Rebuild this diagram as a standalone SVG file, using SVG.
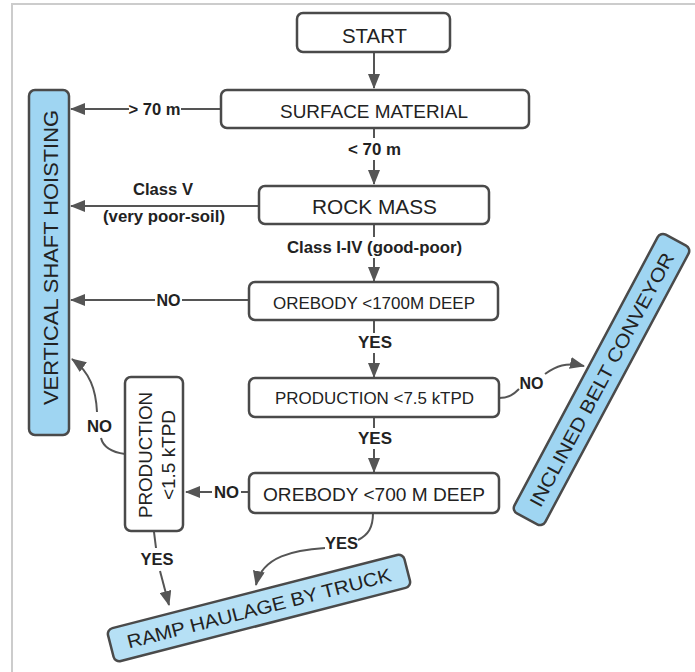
<svg xmlns="http://www.w3.org/2000/svg" width="695" height="672" viewBox="0 0 695 672">
<style>
.box{fill:#fff;stroke:#4a4a4a;stroke-width:2.5}
.blue{fill:#9fd5f2;stroke:#4a4a4a;stroke-width:2.5}
.blue2{fill:#b6e0f5;stroke:#4a4a4a;stroke-width:2.5}
.t{font-family:"Liberation Sans",Arial,sans-serif;fill:#222;text-anchor:middle}
.lbl{font-family:"Liberation Sans",Arial,sans-serif;font-weight:bold;font-size:16px;fill:#222;text-anchor:middle}
.c{fill:none;stroke:#555;stroke-width:2}
</style>
<defs>
<marker id="ah" viewBox="0 0 15 12" refX="14" refY="6" markerWidth="15" markerHeight="12" markerUnits="userSpaceOnUse" orient="auto">
<path d="M0,0 L15,6 L0,12 z" fill="#555"/>
</marker>
</defs>
<rect x="0" y="0" width="695" height="672" fill="#fff"/>
<rect x="12" y="4" width="720" height="720" fill="none" stroke="#cccccc" stroke-width="2"/>

<g id="connectors">
<path class="c" d="M374,52 L374,88" marker-end="url(#ah)"/>
<path class="c" d="M374,128 L374,138"/>
<path class="c" d="M374,160 L374,184" marker-end="url(#ah)"/>
<path class="c" d="M221,109 L181,109"/>
<path class="c" d="M129,109 L71,109" marker-end="url(#ah)"/>
<path class="c" d="M259,206 L71,206" marker-end="url(#ah)"/>
<path class="c" d="M374,224 L374,237"/>
<path class="c" d="M374,258 L374,281" marker-end="url(#ah)"/>
<path class="c" d="M249,300 L182,300"/>
<path class="c" d="M155,300 L71,300" marker-end="url(#ah)"/>
<path class="c" d="M374,320 L374,333"/>
<path class="c" d="M374,353 L374,377" marker-end="url(#ah)"/>
<path class="c" d="M374,417 L374,428"/>
<path class="c" d="M374,449 L374,472" marker-end="url(#ah)"/>
<path class="c" d="M499,398 C509,398 514,394 519,389"/>
<path class="c" d="M545,374 C556,366 566,362 584,366" marker-end="url(#ah)"/>
<path class="c" d="M249,492 L241,492"/>
<path class="c" d="M212,492 L186,492" marker-end="url(#ah)"/>
<path class="c" d="M125,454 C110,452 103,446 101,438"/>
<path class="c" d="M97,412 C96,390 90,372 72,359" marker-end="url(#ah)"/>
<path class="c" d="M154,532 L156,548"/>
<path class="c" d="M160,571 L169,605" marker-end="url(#ah)"/>
<path class="c" d="M373,513 C373,528 368,535 358,540"/>
<path class="c" d="M325,548 C295,550 262,556 256,585" marker-end="url(#ah)"/>
<text class="lbl" x="154.5" y="115" textLength="52" lengthAdjust="spacingAndGlyphs">&gt; 70 m</text>
<text class="lbl" x="374.5" y="155" textLength="53" lengthAdjust="spacingAndGlyphs">&lt; 70 m</text>
<text class="lbl" x="163" y="195" textLength="60" lengthAdjust="spacingAndGlyphs">Class V</text>
<text class="lbl" x="164" y="222" textLength="122" lengthAdjust="spacingAndGlyphs">(very poor-soil)</text>
<text class="lbl" x="374.5" y="253" textLength="175" lengthAdjust="spacingAndGlyphs">Class I-IV (good-poor)</text>
<text class="lbl" x="168.5" y="305.5" textLength="24" lengthAdjust="spacingAndGlyphs">NO</text>
<text class="lbl" x="375" y="348" textLength="34" lengthAdjust="spacingAndGlyphs">YES</text>
<text class="lbl" x="531.5" y="388.5" textLength="24" lengthAdjust="spacingAndGlyphs">NO</text>
<text class="lbl" x="375" y="444" textLength="34" lengthAdjust="spacingAndGlyphs">YES</text>
<text class="lbl" x="226.5" y="497.5" textLength="25" lengthAdjust="spacingAndGlyphs">NO</text>
<text class="lbl" x="99.5" y="432" textLength="25" lengthAdjust="spacingAndGlyphs">NO</text>
<text class="lbl" x="157" y="565" textLength="33" lengthAdjust="spacingAndGlyphs">YES</text>
<text class="lbl" x="341.5" y="549" textLength="33" lengthAdjust="spacingAndGlyphs">YES</text>
</g>

<g id="start">
<rect class="box" x="297" y="13" width="153" height="39" rx="6"/>
<text class="t" x="374.5" y="43" font-size="21" textLength="65" lengthAdjust="spacingAndGlyphs">START</text>
</g>
<g id="surface">
<rect class="box" x="221" y="90" width="308" height="38" rx="6"/>
<text class="t" x="374" y="118" font-size="19" textLength="188" lengthAdjust="spacingAndGlyphs">SURFACE MATERIAL</text>
</g>
<g id="rockmass">
<rect class="box" x="259" y="186" width="230" height="38" rx="6"/>
<text class="t" x="374.5" y="214" font-size="20" textLength="125" lengthAdjust="spacingAndGlyphs">ROCK MASS</text>
</g>
<g id="orebody1700">
<rect class="box" x="249" y="282" width="249" height="38" rx="6"/>
<text class="t" x="374" y="309" font-size="17" textLength="202" lengthAdjust="spacingAndGlyphs">OREBODY &lt;1700M DEEP</text>
</g>
<g id="production75">
<rect class="box" x="249" y="378" width="250" height="39" rx="6"/>
<text class="t" x="374.5" y="403.5" font-size="17" textLength="199" lengthAdjust="spacingAndGlyphs">PRODUCTION &lt;7.5 kTPD</text>
</g>
<g id="orebody700">
<rect class="box" x="249" y="473" width="250" height="40" rx="6"/>
<text class="t" x="374" y="501" font-size="18" textLength="222" lengthAdjust="spacingAndGlyphs">OREBODY &lt;700 M DEEP</text>
</g>
<g id="production15">
<rect class="box" x="125" y="377" width="58" height="154" rx="6"/>
<text class="t" transform="translate(152,455) rotate(-90)" x="0" y="0" font-size="18" textLength="126" lengthAdjust="spacingAndGlyphs">PRODUCTION</text>
<text class="t" transform="translate(175,455) rotate(-90)" x="0" y="0" font-size="18" textLength="90" lengthAdjust="spacingAndGlyphs">&lt;1.5 kTPD</text>
</g>
<g id="vsh">
<rect class="blue" x="29" y="90" width="40" height="345" rx="6"/>
<text class="t" transform="translate(58,257.5) rotate(-90)" x="0" y="0" font-size="20" textLength="295" lengthAdjust="spacingAndGlyphs">VERTICAL SHAFT HOISTING</text>
</g>
<g id="conveyor" transform="translate(601.5,379.5) rotate(-61.9)">
<rect class="blue" x="-158" y="-17.5" width="316" height="35" rx="6"/>
<text class="t" x="0" y="7" font-size="19" textLength="285" lengthAdjust="spacingAndGlyphs">INCLINED BELT CONVEYOR</text>
</g>
<g id="ramp" transform="translate(259,608) rotate(-14.4)">
<rect class="blue2" x="-153" y="-17" width="306" height="34" rx="6"/>
<text class="t" x="0" y="7" font-size="19" textLength="272" lengthAdjust="spacingAndGlyphs">RAMP HAULAGE BY TRUCK</text>
</g>
</svg>
